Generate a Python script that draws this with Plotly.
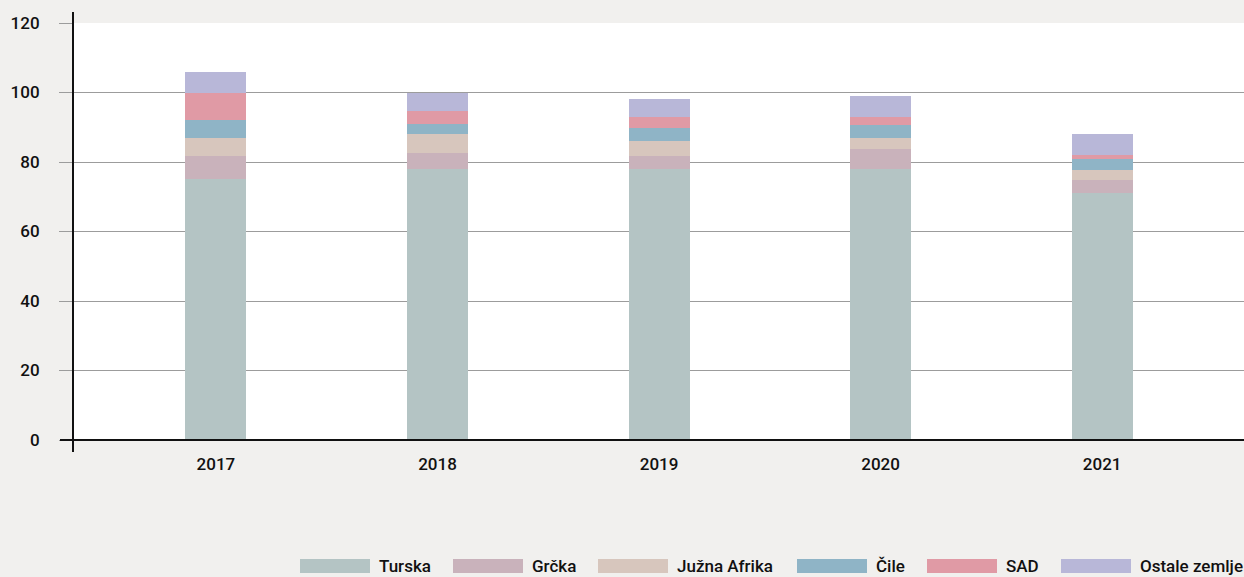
import plotly.graph_objects as go

years = ["2017", "2018", "2019", "2020", "2021"]
turska = [75, 78, 78, 78, 71]
grcka = [6.6, 4.6, 3.7, 5.7, 3.7]
juzna_afrika = [5.2, 5.5, 4.3, 3.2, 2.9]
cile = [5.2, 2.8, 3.8, 3.7, 3.2]
sad = [8.0, 3.8, 3.1, 2.3, 1.1]
ostale = [6.0, 5.3, 5.2, 6.1, 6.1]

series_names = ["Turska", "Grčka", "Južna Afrika", "Čile", "SAD", "Ostale zemlje"]
series_values = [turska, grcka, juzna_afrika, cile, sad, ostale]
colors = ["#b4c4c4", "#c9b2bb", "#d7c6bd", "#8fb4c6", "#e09aa5", "#b8b7d8"]

FONT = "Roboto, sans-serif"
WEIGHT = 500
W, H = 1244, 577
L, R, T, B = 73, 0, 23, 137
pw, ph = W - L - R, H - T - B


def px_x(px):
    return (px - L) / pw


def px_y(py):
    return (H - B - py) / ph


fig = go.Figure()
for name, vals, col in zip(series_names, series_values, colors):
    fig.add_trace(go.Bar(
        x=years, y=vals, name=name, marker=dict(color=col, line=dict(width=0)),
        width=0.275, showlegend=False,
    ))

shapes = [
    # vertical axis line
    dict(type="line", xref="paper", yref="paper", x0=0, x1=0,
         y0=px_y(12), y1=px_y(452), line=dict(color="#111111", width=2), layer="above"),
    # baseline at zero
    dict(type="line", xref="paper", yref="paper", x0=px_x(60), x1=1,
         y0=0, y1=0, line=dict(color="#111111", width=2), layer="above"),
]
annotations = []

# legend drawn as wide swatches with labels
swatch_left = [300, 453, 598, 797, 927, 1061]
sw_w, sw_top, sw_bot = 70, 559, 573
for name, col, x0 in zip(series_names, colors, swatch_left):
    shapes.append(dict(type="rect", xref="paper", yref="paper",
                       x0=px_x(x0), x1=px_x(x0 + sw_w),
                       y0=px_y(sw_bot), y1=px_y(sw_top),
                       fillcolor=col, line=dict(width=0)))
    annotations.append(dict(xref="paper", yref="paper", x=px_x(x0 + sw_w + 7),
                            y=px_y(566), text=name, showarrow=False,
                            xanchor="left", yanchor="middle",
                            font=dict(family=FONT, size=17, color="#111111",
                                      weight=WEIGHT)))

tick_font = dict(family=FONT, size=17, color="#111111", weight=WEIGHT)

fig.update_layout(
    width=W, height=H,
    margin=dict(l=L, r=R, t=T, b=B),
    barmode="stack",
    paper_bgcolor="#f1f0ee",
    plot_bgcolor="#ffffff",
    font=dict(family=FONT, size=17, color="#111111"),
    shapes=shapes,
    annotations=annotations,
    xaxis=dict(
        type="category", range=[-0.645, 4.64], showgrid=False, zeroline=False,
        showline=False, ticks="", ticklabelstandoff=12, tickfont=tick_font,
    ),
    yaxis=dict(
        range=[0, 120], tickvals=[0, 20, 40, 60, 80, 100, 120],
        showgrid=True, gridcolor="#9c9c9c", gridwidth=1.3, zeroline=False,
        showline=False, ticks="outside", ticklen=13, tickcolor="#9c9c9c",
        tickwidth=1.3, ticklabelstandoff=16, tickfont=tick_font,
    ),
)

fig.write_html("out.html")
